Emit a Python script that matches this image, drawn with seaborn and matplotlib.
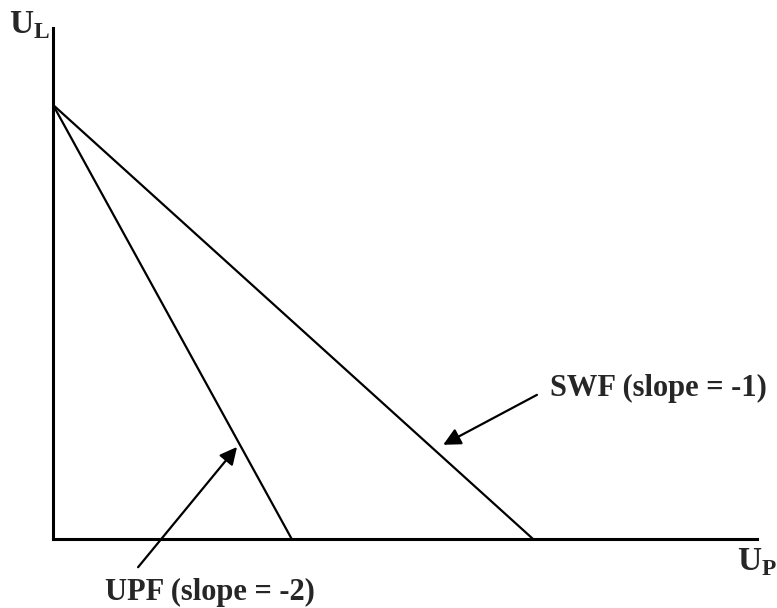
import matplotlib
matplotlib.use("Agg")
import matplotlib.pyplot as plt
import seaborn as sns
import pandas as pd

# Frontier end points (U_P, U_L)
upf_x = [0, 55]
upf_y = [100, 0]
swf_x = [0, 110.6]
swf_y = [100, 0]

# annotation arrows: (tail, head) in data units
swf_arrow = [(111.5, 33.2), (89.9, 21.7)]
upf_arrow = [(19.6, -6.5), (42.4, 21.2)]

sns.set_style("white")
plt.rcParams['font.family'] = ['Liberation Serif', 'DejaVu Serif']
plt.rcParams['mathtext.fontset'] = 'custom'
plt.rcParams['mathtext.rm'] = 'Liberation Serif:bold'

fig = plt.figure(figsize=(7.77, 6.08), dpi=100)
ax = fig.add_axes([53 / 777, 69 / 608, 704 / 777, 511 / 608])

df_upf = pd.DataFrame({'Up': upf_x, 'UL': upf_y})
df_swf = pd.DataFrame({'Up': swf_x, 'UL': swf_y})
sns.lineplot(data=df_upf, x='Up', y='UL', color='black', linewidth=1.6, ax=ax)
sns.lineplot(data=df_swf, x='Up', y='UL', color='black', linewidth=1.6, ax=ax)

ax.set_xlim(0, 162.2)
ax.set_ylim(0, 117.7)
ax.set_xticks([])
ax.set_yticks([])
ax.set_xlabel('')
ax.set_ylabel('')
sns.despine(ax=ax)
for s in ['left', 'bottom']:
    ax.spines[s].set_linewidth(2.2)
    ax.spines[s].set_color('black')

arrow_kw = dict(arrowstyle='-|>', color='black', lw=1.6, mutation_scale=26,
                shrinkA=0, shrinkB=0)
ax.annotate('', xy=swf_arrow[1], xytext=swf_arrow[0], arrowprops=arrow_kw,
            annotation_clip=False)
ax.annotate('', xy=upf_arrow[1], xytext=upf_arrow[0], arrowprops=arrow_kw,
            annotation_clip=False)

fs = 22
fig.text(550 / 777, 1 - 388 / 608, 'SWF (slope = -1)', fontsize=fs,
         fontweight='bold', ha='left', va='center')
fig.text(105 / 777, 1 - 592 / 608, 'UPF (slope = -2)', fontsize=fs,
         fontweight='bold', ha='left', va='center')
fig.text(9 / 777, 1 - 25 / 608, r'U$_\mathregular{L}$', fontsize=24,
         fontweight='bold', ha='left', va='center')
fig.text(737 / 777, 1 - 562 / 608, r'U$_\mathregular{P}$', fontsize=24,
         fontweight='bold', ha='left', va='center')

fig.savefig('out.png', dpi=100)
